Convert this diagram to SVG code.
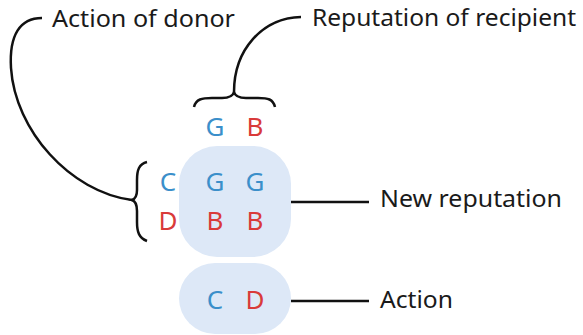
<svg xmlns="http://www.w3.org/2000/svg" width="583" height="335" viewBox="0 0 583 335">
  <style>
    .box { fill: #dde8f7; }
    .ln { fill: none; stroke: #111; stroke-width: 2.5; stroke-linecap: butt; }
    .lbl { font-family: "Noto Sans", "Open Sans", sans-serif; font-size: 24px; fill: #1a1a1a; }
    .ltr { font-family: "Noto Sans", "Open Sans", sans-serif; font-size: 26px; text-anchor: middle; }
    .g { fill: #3b8fca; }
    .b { fill: #d93a3a; }
  </style>

  <rect width="583" height="335" fill="#ffffff"/>

  <!-- reputation table -->
  <g id="table">
    <rect class="box" x="179" y="146" width="112" height="111" rx="38" ry="38"/>
    <text class="ltr g" x="215" y="191">G</text>
    <text class="ltr g" x="255" y="191">G</text>
    <text class="ltr b" x="215" y="230">B</text>
    <text class="ltr b" x="255" y="230">B</text>
  </g>

  <!-- recipient reputation header -->
  <g id="recipient">
    <text class="ltr g" x="215" y="136">G</text>
    <text class="ltr b" x="255" y="136">B</text>
  </g>

  <!-- donor actions -->
  <g id="donor">
    <text class="ltr g" x="168" y="191">C</text>
    <text class="ltr b" x="168" y="230">D</text>
  </g>

  <!-- action row -->
  <g id="action">
    <rect class="box" x="179" y="263" width="112" height="71" rx="36" ry="35.5"/>
    <text class="ltr g" x="215" y="309">C</text>
    <text class="ltr b" x="255" y="309">D</text>
  </g>

  <!-- labels -->
  <g id="label-donor">
    <text class="lbl" x="52" y="27" font-size="25" textLength="183" lengthAdjust="spacingAndGlyphs">Action of donor</text>
  </g>
  <g id="label-recipient">
    <text class="lbl" x="312" y="26" textLength="264" lengthAdjust="spacingAndGlyphs">Reputation of recipient</text>
  </g>
  <g id="label-new">
    <text class="lbl" x="380" y="207" font-size="25" textLength="182" lengthAdjust="spacingAndGlyphs">New reputation</text>
  </g>
  <g id="label-action">
    <text class="lbl" x="380" y="308" font-size="25" textLength="73" lengthAdjust="spacingAndGlyphs">Action</text>
  </g>

  <!-- connectors: braces and leader lines -->
  <g id="connectors">
    <!-- top brace over recipient column -->
    <path class="ln" d="M 194 107 C 196 99, 202 98, 212 98 L 222 98 C 230 98, 233 96, 234 92 C 235 96, 238 98, 246 98 L 258 98 C 268 98, 273 99, 275 107"/>
    <path class="ln" d="M 234 92 C 234 50, 262 18, 301 17"/>
    <!-- left brace beside donor column -->
    <path class="ln" d="M 147 162 C 139 164, 137 170, 137 180 L 137 190 C 137 197, 135 199, 132 200 C 135 201, 137 204, 137 211 L 137 222 C 137 232, 139 238, 147 241"/>
    <path class="ln" d="M 132 200 C 70 192, 15 130, 11 68 C 9 35, 20 18, 42 18"/>
    <!-- leader lines -->
    <path class="ln" d="M 291 202 L 369 202"/>
    <path class="ln" d="M 291 301 L 369 301"/>
  </g>
</svg>
